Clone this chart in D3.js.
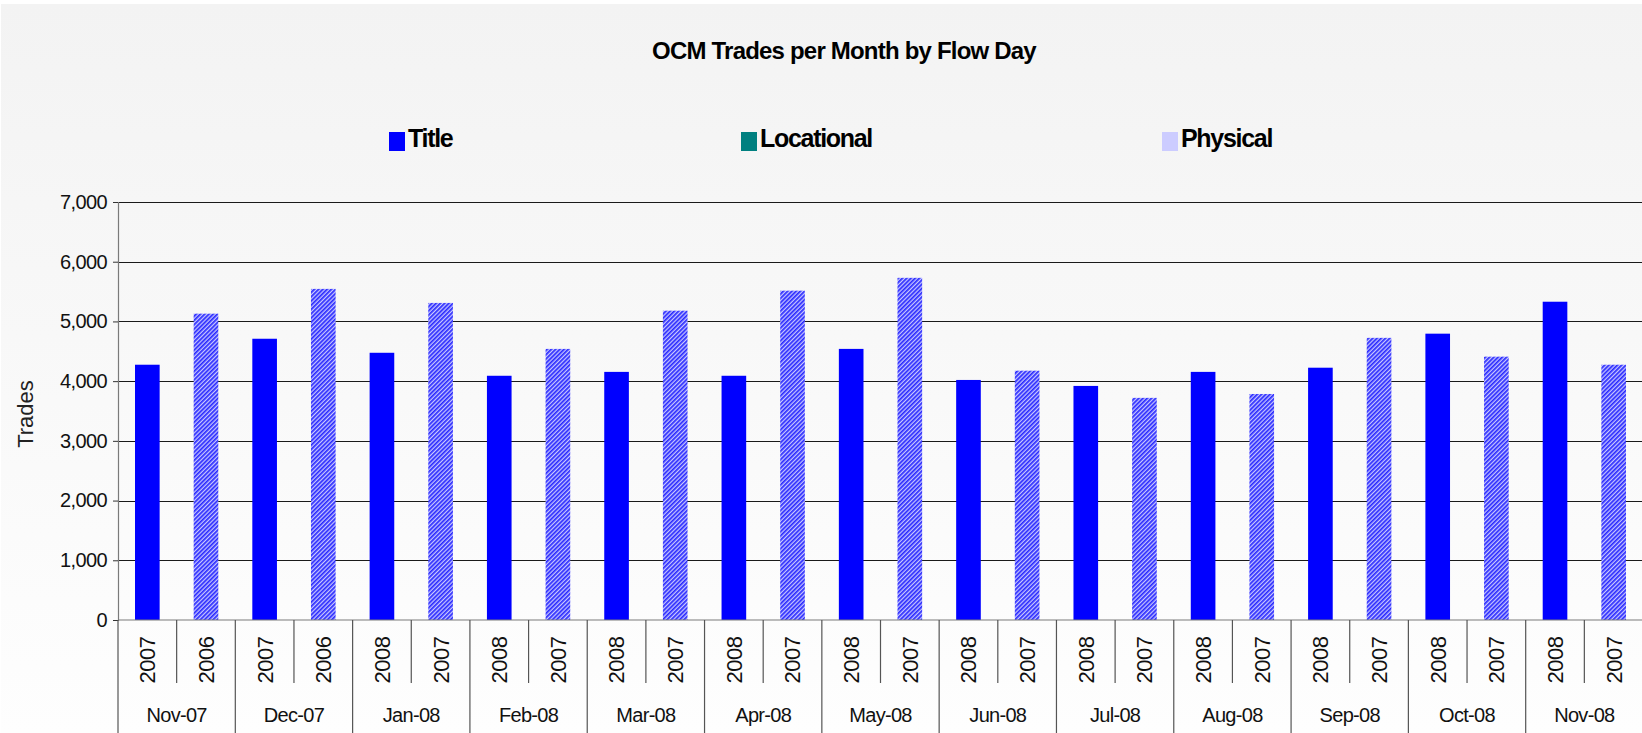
<!DOCTYPE html>
<html>
<head>
<meta charset="utf-8">
<script src="https://cdnjs.cloudflare.com/ajax/libs/d3/7.8.5/d3.min.js"></script>
<style>
  html, body { margin: 0; padding: 0; background: #ffffff; overflow: hidden; }
  svg { display: block; font-family: "Liberation Sans", Arial, sans-serif; }
</style>
</head>
<body>
<div id="vis"></div>
<script>
// data
const MONTHS = ["Nov-07", "Dec-07", "Jan-08", "Feb-08", "Mar-08", "Apr-08", "May-08",
                "Jun-08", "Jul-08", "Aug-08", "Sep-08", "Oct-08", "Nov-08"];
const YEAR_NOW = ["2007", "2007", "2008", "2008", "2008", "2008", "2008",
                  "2008", "2008", "2008", "2008", "2008", "2008"];
const YEAR_PREV = ["2006", "2006", "2007", "2007", "2007", "2007", "2007",
                   "2007", "2007", "2007", "2007", "2007", "2007"];
const TRADES_NOW = [4275, 4710, 4475, 4090, 4155, 4090, 4540, 4020, 3920, 4155, 4225, 4795, 5330];
const TRADES_PREV = [5130, 5545, 5310, 4540, 5180, 5515, 5730, 4175, 3720, 3785, 4725, 4410, 4275];
const Y_TICKS = [0, 1000, 2000, 3000, 4000, 5000, 6000, 7000];
const LEGEND = ["Title", "Locational", "Physical"];
const LEGEND_COLORS = ["#0000ff", "#008080", "#ccccff"];

// frame
const FRAME_WIDTH = 1642;
const FRAME_HEIGHT = 733;
const PLOT = {left: 118, right: 1643, top: 202, bottom: 620};

const svg = d3.select("#vis")
              .append("svg")
              .attr("width", FRAME_WIDTH)
              .attr("height", FRAME_HEIGHT);

const defs = svg.append("defs");

const grad = defs.append("linearGradient")
                 .attr("id", "bg")
                 .attr("x1", 0).attr("y1", 0)
                 .attr("x2", 0).attr("y2", 1);
grad.append("stop").attr("offset", "0%").attr("stop-color", "#f3f3f3");
grad.append("stop").attr("offset", "100%").attr("stop-color", "#fefefe");

// hatch for the previous-year bars
const hatch = defs.append("pattern")
                  .attr("id", "hatch")
                  .attr("patternUnits", "userSpaceOnUse")
                  .attr("width", 3)
                  .attr("height", 3)
                  .attr("patternTransform", "rotate(45)");
hatch.append("rect").attr("width", 3).attr("height", 3).attr("fill", "#c8c8ff");
hatch.append("rect").attr("width", 1.7).attr("height", 3).attr("fill", "#2a2aff");

svg.append("rect")
   .attr("x", 1).attr("y", 4)
   .attr("width", FRAME_WIDTH - 1)
   .attr("height", FRAME_HEIGHT - 4)
   .attr("fill", "url(#bg)");

// scales
const X_GROUP = d3.scaleBand()
                  .domain(MONTHS)
                  .range([PLOT.left, PLOT.right]);

const X_SUB = d3.scaleBand()
                .domain([0, 1])
                .range([0, X_GROUP.bandwidth()]);

const Y_SCALE = d3.scaleLinear()
                  .domain([0, 7000])
                  .range([PLOT.bottom, PLOT.top]);

const BAR_W = X_SUB.bandwidth() * 0.42;

// gridlines
svg.append("g")
   .selectAll("line")
   .data(Y_TICKS.filter(d => d > 0))
   .join("line")
     .attr("x1", PLOT.left)
     .attr("x2", PLOT.right)
     .attr("y1", d => Math.round(Y_SCALE(d)) + 0.5)
     .attr("y2", d => Math.round(Y_SCALE(d)) + 0.5)
     .attr("stroke", "#1a1a1a")
     .attr("stroke-width", 1.2);

// bars
const rows = MONTHS.map((m, i) => ({month: m, now: TRADES_NOW[i], prev: TRADES_PREV[i]}));

svg.append("g")
   .selectAll("rect")
   .data(rows)
   .join("rect")
     .attr("x", d => X_GROUP(d.month) + X_SUB(0) + (X_SUB.bandwidth() - BAR_W) / 2)
     .attr("y", d => Y_SCALE(d.now))
     .attr("width", BAR_W)
     .attr("height", d => Y_SCALE(0) - Y_SCALE(d.now))
     .attr("fill", "#0000ff");

svg.append("g")
   .selectAll("rect")
   .data(rows)
   .join("rect")
     .attr("x", d => X_GROUP(d.month) + X_SUB(1) + (X_SUB.bandwidth() - BAR_W) / 2)
     .attr("y", d => Y_SCALE(d.prev))
     .attr("width", BAR_W)
     .attr("height", d => Y_SCALE(0) - Y_SCALE(d.prev))
     .attr("fill", "url(#hatch)");

// y axis
const yAxis = svg.append("g")
   .attr("transform", "translate(" + PLOT.left + ",0)")
   .call(d3.axisLeft(Y_SCALE)
           .tickValues(Y_TICKS)
           .tickFormat(d3.format(","))
           .tickSize(5)
           .tickPadding(6));
yAxis.select(".domain").attr("stroke", "#7a7a7a").attr("stroke-width", 1.2);
yAxis.selectAll(".tick line").attr("stroke", "#333");
yAxis.selectAll("text")
     .attr("font-size", "20px")
     .attr("font-family", "Liberation Sans, Arial, sans-serif")
     .attr("letter-spacing", "-0.6px")
     .attr("fill", "#111");

svg.append("text")
   .attr("transform", "translate(33,414) rotate(-90)")
   .attr("text-anchor", "middle")
   .attr("font-size", "22px")
   .attr("fill", "#222")
   .text("Trades");

// x axis (two levels)
svg.append("line")
   .attr("x1", PLOT.left).attr("x2", PLOT.right)
   .attr("y1", PLOT.bottom).attr("y2", PLOT.bottom)
   .attr("stroke", "#7a7a7a")
   .attr("stroke-width", 1.2);

const xg = svg.append("g");

xg.selectAll(".grp-sep")
  .data(MONTHS)
  .join("line")
    .attr("class", "grp-sep")
    .attr("x1", d => X_GROUP(d))
    .attr("x2", d => X_GROUP(d))
    .attr("y1", PLOT.bottom)
    .attr("y2", FRAME_HEIGHT)
    .attr("stroke", "#555")
    .attr("stroke-width", 1.2);

xg.selectAll(".sub-sep")
  .data(MONTHS)
  .join("line")
    .attr("class", "sub-sep")
    .attr("x1", d => X_GROUP(d) + X_SUB(1))
    .attr("x2", d => X_GROUP(d) + X_SUB(1))
    .attr("y1", PLOT.bottom)
    .attr("y2", 683)
    .attr("stroke", "#555")
    .attr("stroke-width", 1.2);

const yearLabels = [];
MONTHS.forEach((m, i) => {
  yearLabels.push({month: m, k: 0, label: YEAR_NOW[i]});
  yearLabels.push({month: m, k: 1, label: YEAR_PREV[i]});
});

xg.selectAll(".year")
  .data(yearLabels)
  .join("text")
    .attr("class", "year")
    .attr("transform", d => "translate(" + (X_GROUP(d.month) + X_SUB(d.k) + X_SUB.bandwidth() / 2) + ",660) rotate(-90)")
    .attr("text-anchor", "middle")
    .attr("dy", "0.36em")
    .attr("font-size", "22px")
    .attr("letter-spacing", "-0.5px")
    .attr("fill", "#111")
    .text(d => d.label);

xg.selectAll(".month")
  .data(MONTHS)
  .join("text")
    .attr("class", "month")
    .attr("x", d => X_GROUP(d) + X_GROUP.bandwidth() / 2)
    .attr("y", 722)
    .attr("text-anchor", "middle")
    .attr("font-size", "20px")
    .attr("letter-spacing", "-0.7px")
    .attr("fill", "#111")
    .text(d => d);

// title
svg.append("text")
   .attr("x", 844)
   .attr("y", 59)
   .attr("text-anchor", "middle")
   .attr("font-size", "24px")
   .attr("font-weight", "bold")
   .attr("letter-spacing", "-0.8px")
   .text("OCM Trades per Month by Flow Day");

// legend
const LEGEND_X = [389, 741, 1162];
const leg = svg.append("g")
               .selectAll("g")
               .data(LEGEND)
               .join("g")
                 .attr("transform", (d, i) => "translate(" + LEGEND_X[i] + ",0)");
leg.append("rect")
   .attr("x", 0).attr("y", 132)
   .attr("width", 16).attr("height", 19)
   .attr("fill", (d, i) => LEGEND_COLORS[i]);
leg.append("text")
   .attr("x", 19)
   .attr("y", 147)
   .attr("font-size", "25px")
   .attr("font-weight", "bold")
   .attr("letter-spacing", "-1.3px")
   .text(d => d);
</script>
</body>
</html>
